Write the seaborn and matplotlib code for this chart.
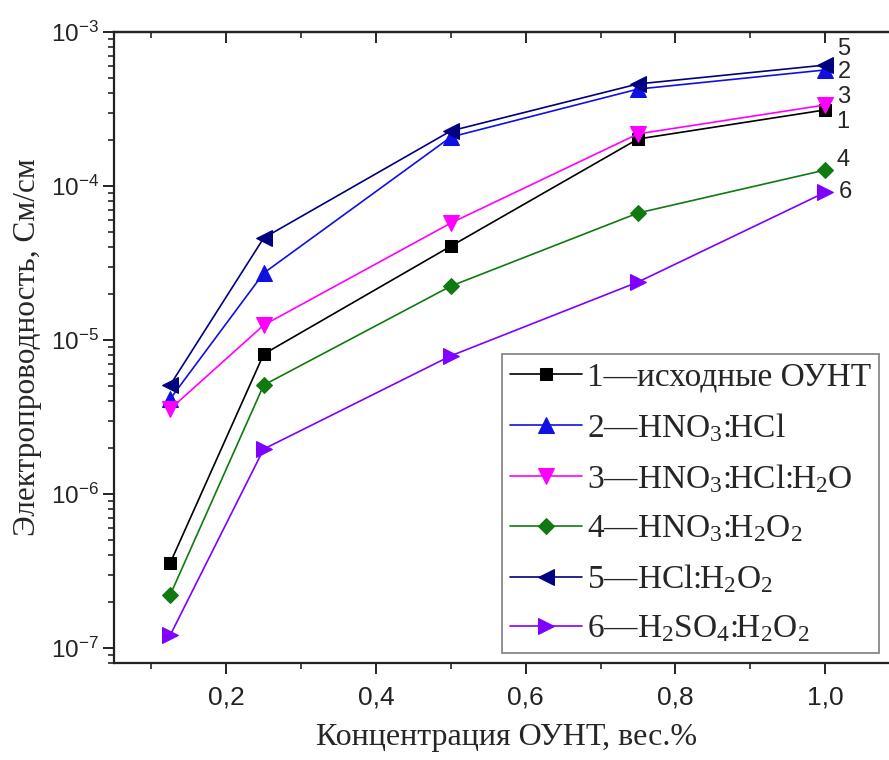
import numpy as np
import pandas as pd
import matplotlib
matplotlib.use("Agg")
import matplotlib.pyplot as plt
import matplotlib.ticker as mticker
import seaborn as sns

# ---- data ----
conc = [0.125, 0.25, 0.5, 0.75, 1.0]
s1_initial = [3.56e-7, 8.1e-6, 4.07e-5, 2.02e-4, 3.12e-4]
s2_hno3_hcl = [4.14e-6, 2.72e-5, 2.08e-4, 4.26e-4, 5.67e-4]
s3_hno3_hcl_h2o = [3.56e-6, 1.25e-5, 5.75e-5, 2.18e-4, 3.36e-4]
s4_hno3_h2o2 = [2.21e-7, 5.1e-6, 2.24e-5, 6.68e-5, 1.27e-4]
s5_hcl_h2o2 = [5.1e-6, 4.6e-5, 2.28e-4, 4.6e-4, 6.1e-4]
s6_h2so4_h2o2 = [1.21e-7, 1.96e-6, 7.9e-6, 2.38e-5, 9.1e-5]

legend_labels = [
    "1—исходные ОУНТ",
    "2—HNO$_3$:HCl",
    "3—HNO$_3$:HCl:H$_2$O",
    "4—HNO$_3$:H$_2$O$_2$",
    "5—HCl:H$_2$O$_2$",
    "6—H$_2$SO$_4$:H$_2$O$_2$",
]
end_labels = ["1", "2", "3", "4", "5", "6"]
x_label = "Концентрация ОУНТ, вес.%"
y_label = "Электропроводность, См/см"

series = [s1_initial, s2_hno3_hcl, s3_hno3_hcl_h2o, s4_hno3_h2o2, s5_hcl_h2o2, s6_h2so4_h2o2]

# ---- styles ----
colors = ["#000000", "#1010e0", "#ff00ff", "#107a10", "#000080", "#7f00ff"]
markers = ["s", "^", "v", "D", "<", ">"]
msizes = [9, 11, 11, 8.5, 11, 11]
# offsets (points) for end-number labels
end_offsets = [(13, -8.6), (13.7, -1.4), (13, 5.8), (13, 7.2), (13.7, 11.5), (14.4, 0)]

sns.set_style("ticks")
plt.rcParams["font.family"] = ["Liberation Serif", "DejaVu Serif"]
plt.rcParams["mathtext.fontset"] = "custom"
plt.rcParams["mathtext.rm"] = "Liberation Serif"
plt.rcParams["mathtext.it"] = "Liberation Serif:italic"
plt.rcParams["mathtext.sf"] = "Liberation Sans"

fig = plt.figure(figsize=(8.89, 7.6), dpi=100)
ax = fig.add_axes([114 / 889, 1 - 663 / 760, 786 / 889, 631 / 760])

df = pd.DataFrame({"conc": np.tile(conc, len(series)),
                   "val": np.concatenate(series),
                   "series": np.repeat(legend_labels, len(conc))})

for i, lab in enumerate(legend_labels):
    sub = df[df["series"] == lab]
    sns.lineplot(data=sub, x="conc", y="val", ax=ax, color=colors[i],
                 marker=markers[i], markersize=msizes[i], markeredgecolor=colors[i],
                 markerfacecolor=colors[i], linewidth=1.2, label=lab, zorder=3 + i)
    ax.annotate(end_labels[i], xy=(conc[-1], series[i][-1]),
                xytext=end_offsets[i], textcoords="offset points",
                ha="center", va="center", fontsize=17, family="Liberation Sans",
                annotation_clip=False)

ax.set_yscale("log")
ax.set_xlim(0.05, 1.1)
ax.set_ylim(8e-8, 1e-3)

ax.xaxis.set_major_locator(mticker.FixedLocator([0.2, 0.4, 0.6, 0.8, 1.0]))
ax.xaxis.set_minor_locator(mticker.FixedLocator([0.1, 0.3, 0.5, 0.7, 0.9]))
ax.xaxis.set_major_formatter(mticker.FuncFormatter(lambda v, p: f"{v:.1f}".replace(".", ",")))
ax.yaxis.set_major_locator(mticker.LogLocator(base=10, numticks=20))
ax.yaxis.set_minor_locator(mticker.LogLocator(base=10, subs=np.arange(2, 10), numticks=20))
ax.yaxis.set_major_formatter(mticker.FuncFormatter(
    lambda v, p: r"$\mathsf{10^{%d}}$" % int(round(np.log10(v)))))
ax.yaxis.set_minor_formatter(mticker.NullFormatter())

for sp in ax.spines.values():
    sp.set_linewidth(1.6)
    sp.set_color("#222222")
    sp.set_visible(True)

ax.tick_params(axis="both", which="major", direction="out", length=8, width=1.4,
               colors="#222222")
ax.tick_params(axis="x", which="major", labelsize=19, pad=8)
ax.tick_params(axis="y", which="major", labelsize=17.5, pad=3)
ax.tick_params(axis="both", which="minor", direction="out", length=4.5, width=1.2)
for lab in ax.get_xticklabels() + ax.get_yticklabels():
    lab.set_family("Liberation Sans")

# mirrored inward ticks on top/right
secx = ax.secondary_xaxis("top")
secx.xaxis.set_major_locator(mticker.FixedLocator([0.2, 0.4, 0.6, 0.8, 1.0]))
secx.xaxis.set_minor_locator(mticker.FixedLocator([0.1, 0.3, 0.5, 0.7, 0.9]))
secx.tick_params(which="major", direction="in", length=8, width=1.4, labeltop=False)
secx.tick_params(which="minor", direction="in", length=4.5, width=1.2)
secx.spines["top"].set_linewidth(1.6)
secy = ax.secondary_yaxis("right")
secy.yaxis.set_major_locator(mticker.LogLocator(base=10, numticks=20))
secy.yaxis.set_minor_locator(mticker.NullLocator())
secy.tick_params(which="major", direction="in", length=8, width=1.4, labelright=False)

ax.set_xlabel(x_label, fontsize=23, labelpad=10)
ax.set_ylabel(y_label, fontsize=22.5, labelpad=6)

leg = ax.legend(loc="upper right", bbox_to_anchor=(879 / 889, 1 - 354 / 760),
                bbox_transform=fig.transFigure, fontsize=24, frameon=True,
                fancybox=False, edgecolor="#888888", framealpha=1,
                handlelength=2.15, handletextpad=0.15, labelspacing=0.55,
                borderpad=0.25, borderaxespad=0)
leg.get_frame().set_linewidth(1.3)

fig.savefig("out.png", dpi=100)
